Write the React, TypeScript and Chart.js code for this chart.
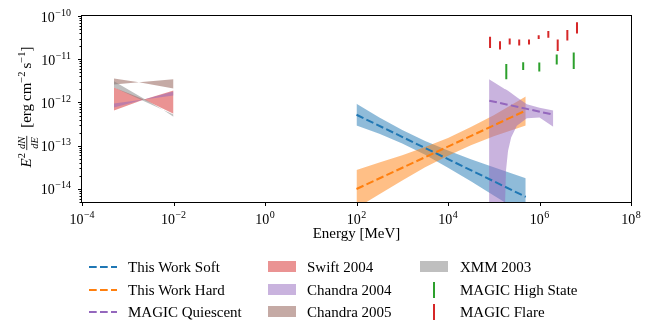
import React, { useEffect, useRef } from 'react';
import { Chart, registerables } from 'chart.js';
Chart.register(...registerables);

// ---------------- data ----------------
// This Work Soft (power law + bowtie)
const softLineE = [1e2, 5e5];
const softLineF = [5.2e-13, 6.6e-15];
const softBandE = [1e2, 3.16e2, 1e3, 3.16e3, 1e4, 3.16e4, 1e5, 5e5];
const softBandHi = [9.3e-13, 4.5e-13, 2.3e-13, 1.29e-13, 7.8e-14, 4.9e-14, 3.2e-14, 1.78e-14];
const softBandLo = [2.95e-13, 1.9e-13, 1.12e-13, 6.2e-14, 3.1e-14, 1.5e-14, 7.1e-15, 2.45e-15];

// This Work Hard
const hardLineE = [1e2, 5e5];
const hardLineF = [1e-14, 6.5e-13];
const hardBandE = [1e2, 3.16e2, 1e3, 3.16e3, 1e4, 3.16e4, 1e5, 5e5];
const hardBandHi = [2.75e-14, 4.1e-14, 6.0e-14, 9.3e-14, 1.51e-13, 2.7e-13, 5.1e-13, 1.38e-12];
const hardBandLo = [3.6e-15, 7.6e-15, 1.58e-14, 3.2e-14, 5.9e-14, 1.02e-13, 1.66e-13, 2.95e-13];

// MAGIC Quiescent
const quiescentLineE = [8e4, 1.9e6];
const quiescentLineF = [1.1e-12, 5.3e-13];
const quiescentBandE = [7.9e4, 1.7e5, 1.76e5, 1.85e5, 2.05e5, 2.4e5, 3.2e5, 5.3e5, 1.0e6, 2.0e6];
const quiescentBandHi = [3.43e-12, 2.09e-12, 2.04e-12, 2.0e-12, 1.86e-12, 1.66e-12, 1.32e-12, 9.1e-13, 7.6e-13, 6.5e-13];
const quiescentBandLo = [1e-16, 1e-16, 4.0e-15, 2.63e-14, 7.6e-14, 1.55e-13, 2.9e-13, 4.3e-13, 4.5e-13, 2.75e-13];

// X-ray bowties
const swiftE = [5e-4, 2.26e-3, 1e-2];
const swiftHi = [2.23e-12, 1.17e-12, 1.9e-12];
const swiftLo = [6.5e-13, 1.17e-12, 5.5e-13];
const chandra04E = [5e-4, 2.26e-3, 1e-2];
const chandra04Hi = [9.5e-13, 1.17e-12, 1.8e-12];
const chandra04Lo = [7.7e-13, 1.17e-12, 1.46e-12];
const chandra05E = [5e-4, 1.76e-3, 1e-2];
const chandra05Hi = [3.6e-12, 2.92e-12, 3.43e-12];
const chandra05Lo = [2.6e-12, 2.92e-12, 2.1e-12];
const xmmE = [5e-4, 6e-3, 1e-2];
const xmmHi = [3.08e-12, 6.7e-13, 5.26e-13];
const xmmLo = [2.23e-12, 6.7e-13, 4.7e-13];

// MAGIC flare / high state (vertical error bars)
const flareE = [8.3e4, 1.37e5, 2.23e5, 3.6e5, 5.9e5, 9.6e5, 1.56e6, 2.5e6, 4.06e6, 6.6e6];
const flareLo = [1.83e-11, 1.68e-11, 2.2e-11, 2.08e-11, 2.2e-11, 2.92e-11, 3.13e-11, 1.56e-11, 2.72e-11, 3.96e-11];
const flareHi = [3.3e-11, 2.62e-11, 3.03e-11, 2.87e-11, 2.87e-11, 3.61e-11, 4.48e-11, 2.87e-11, 4.72e-11, 7.13e-11];
const highE = [1.88e5, 4.4e5, 9.9e5, 2.38e6, 5.6e6];
const highLo = [3.43e-12, 5.64e-12, 5.18e-12, 7.53e-12, 5.94e-12];
const highHi = [7.78e-12, 8.51e-12, 8.37e-12, 1.29e-11, 1.43e-11];

// axes
const xMin = 1e-4, xMax = 1e8;
const yMin = 5e-15, yMax = 1e-10;
const xTickValues = [1e-4, 1e-2, 1e0, 1e2, 1e4, 1e6, 1e8];
const xTickExponents = ['\u22124', '\u22122', '0', '2', '4', '6', '8'];
const yTickValues = [1e-14, 1e-13, 1e-12, 1e-11, 1e-10];
const yTickExponents = ['\u221214', '\u221213', '\u221212', '\u221211', '\u221210'];
const yMinorDecades = [1e-15, 1e-14, 1e-13, 1e-12, 1e-11];
const yMinorMultipliers = [2, 3, 4, 5, 6, 7, 8, 9];

const C = {
  blue: '#1f77b4', orange: '#ff7f0e', purple: '#9467bd', red: '#d62728', green: '#2ca02c',
  blueA: 'rgba(31,119,180,0.5)', orangeA: 'rgba(255,127,14,0.5)', purpleA: 'rgba(148,103,189,0.5)',
  redA: 'rgba(214,39,40,0.5)', brownA: 'rgba(140,86,75,0.5)', grayA: 'rgba(127,127,127,0.5)',
};

const FONT = '"Liberation Serif", "Times New Roman", serif';

type LegendItem = { label: string; kind: 'dash' | 'patch' | 'bar'; color: string; col: number; row: number };
const legendItems: LegendItem[] = [
  { label: 'This Work Soft', kind: 'dash', color: C.blue, col: 0, row: 0 },
  { label: 'This Work Hard', kind: 'dash', color: C.orange, col: 0, row: 1 },
  { label: 'MAGIC Quiescent', kind: 'dash', color: C.purple, col: 0, row: 2 },
  { label: 'Swift 2004', kind: 'patch', color: C.redA, col: 1, row: 0 },
  { label: 'Chandra 2004', kind: 'patch', color: C.purpleA, col: 1, row: 1 },
  { label: 'Chandra 2005', kind: 'patch', color: C.brownA, col: 1, row: 2 },
  { label: 'XMM 2003', kind: 'patch', color: C.grayA, col: 2, row: 0 },
  { label: 'MAGIC High State', kind: 'bar', color: C.green, col: 2, row: 1 },
  { label: 'MAGIC Flare', kind: 'bar', color: C.red, col: 2, row: 2 },
];
const legendHandleX = [89, 268, 420];
const legendTextX = [128, 307, 460];
const legendRowY = [267, 289.5, 311.5];

function drawPow(ctx: CanvasRenderingContext2D, x: number, baseline: number, exp: string, align: 'center' | 'right') {
  ctx.font = `14px ${FONT}`;
  const w1 = ctx.measureText('10').width;
  ctx.font = `10px ${FONT}`;
  const w2 = ctx.measureText(exp).width;
  const total = w1 + 0.5 + w2;
  const x0 = align === 'center' ? x - total / 2 : x - total;
  ctx.textAlign = 'left';
  ctx.textBaseline = 'alphabetic';
  ctx.font = `14px ${FONT}`;
  ctx.fillText('10', x0, baseline);
  ctx.font = `10px ${FONT}`;
  ctx.fillText(exp, x0 + w1 + 0.5, baseline - 6);
}

function drawYTitle(ctx: CanvasRenderingContext2D, cx: number, cy: number) {
  type Piece = { t?: string; font?: string; dy?: number; gap?: number; frac?: [string, string] };
  const big = `15px ${FONT}`;
  const bigI = `italic 15px ${FONT}`;
  const sm = `10.5px ${FONT}`;
  const smI = `italic 10.5px ${FONT}`;
  const pieces: Piece[] = [
    { t: 'E', font: bigI, dy: 0 },
    { t: '2', font: sm, dy: -6.5 },
    { gap: 3 },
    { frac: ['dN', 'dE'] },
    { gap: 8 },
    { t: '[', font: big, dy: 0 },
    { t: 'erg', font: big, dy: 0 },
    { gap: 3 },
    { t: 'cm', font: big, dy: 0 },
    { t: '\u22122', font: sm, dy: -6.5 },
    { gap: 3 },
    { t: 's', font: big, dy: 0 },
    { t: '\u22121', font: sm, dy: -6.5 },
    { t: ']', font: big, dy: 0 },
  ];
  const widths = pieces.map((p) => {
    if (p.gap) return p.gap;
    if (p.frac) {
      ctx.font = smI;
      return Math.max(ctx.measureText(p.frac[0]).width, ctx.measureText(p.frac[1]).width) + 2;
    }
    ctx.font = p.font!;
    return ctx.measureText(p.t!).width;
  });
  const W = widths.reduce((a, b) => a + b, 0);
  ctx.save();
  ctx.translate(cx, cy);
  ctx.rotate(-Math.PI / 2);
  ctx.textAlign = 'left';
  ctx.textBaseline = 'alphabetic';
  ctx.fillStyle = '#000';
  let x = -W / 2;
  pieces.forEach((p, i) => {
    const w = widths[i];
    if (p.frac) {
      ctx.font = smI;
      const wn = ctx.measureText(p.frac[0]).width;
      const wd = ctx.measureText(p.frac[1]).width;
      ctx.fillText(p.frac[0], x + (w - wn) / 2, -6.5);
      ctx.fillText(p.frac[1], x + (w - wd) / 2, 6.5);
      ctx.fillRect(x, -4.6, w, 0.8);
    } else if (p.t) {
      ctx.font = p.font!;
      ctx.fillText(p.t, x, p.dy || 0);
    }
    x += w;
  });
  ctx.restore();
}

const axesPlugin = {
  id: 'mplAxes',
  afterDraw(chart: any) {
    const { ctx, chartArea: a, scales } = chart;
    const xs = scales.x, ys = scales.y;
    ctx.save();
    ctx.strokeStyle = '#000';
    ctx.fillStyle = '#000';
    ctx.lineWidth = 1;
    const L = Math.round(a.left) - 0.5, R = Math.round(a.right) + 0.5;
    const T = Math.round(a.top) - 0.5, B = Math.round(a.bottom) + 0.5;
    ctx.strokeRect(L, T, R - L, B - T);
    ctx.beginPath();
    // y major ticks
    yTickValues.forEach((v) => {
      const py = Math.round(ys.getPixelForValue(v)) + 0.5;
      ctx.moveTo(L - 3.5, py); ctx.lineTo(L, py);
    });
    // y minor ticks
    yMinorDecades.forEach((d) => {
      yMinorMultipliers.forEach((m) => {
        const v = m * d;
        if (v < yMin || v > yMax) return;
        const py = Math.round(ys.getPixelForValue(v)) + 0.5;
        ctx.moveTo(L - 2, py); ctx.lineTo(L, py);
      });
    });
    // x ticks
    xTickValues.forEach((v) => {
      const px = Math.round(xs.getPixelForValue(v)) + 0.5;
      ctx.moveTo(px, B); ctx.lineTo(px, B + 3.5);
    });
    ctx.stroke();
    // labels
    yTickValues.forEach((v, i) => {
      const py = ys.getPixelForValue(v);
      drawPow(ctx, 71, py + 5.5, yTickExponents[i], 'right');
    });
    xTickValues.forEach((v, i) => {
      const px = xs.getPixelForValue(v);
      drawPow(ctx, px, 224, xTickExponents[i], 'center');
    });
    // x title
    ctx.font = `15px ${FONT}`;
    ctx.textAlign = 'center';
    ctx.textBaseline = 'alphabetic';
    ctx.fillText('Energy [MeV]', (a.left + a.right) / 2, 238);
    drawYTitle(ctx, 31, (a.top + a.bottom) / 2 - 2);
    ctx.restore();
  },
};

export default function App() {
  const ref = useRef<HTMLCanvasElement>(null);
  useEffect(() => {
    const ds: any[] = [];
    const xy = (E: number[], F: (number | null)[]) => E.map((x, i) => ({ x, y: F[i] }));
    const addBand = (E: number[], hi: number[], lo: number[], color: string, order: number) => {
      ds.push({ data: xy(E, hi), borderWidth: 0, borderColor: 'transparent', pointRadius: 0, fill: false, order });
      ds.push({ data: xy(E, lo), borderWidth: 0, borderColor: 'transparent', pointRadius: 0, fill: '-1', backgroundColor: color, order });
    };
    const addLine = (E: number[], F: number[], color: string, order: number) => {
      ds.push({ data: xy(E, F), borderColor: color, borderWidth: 2, borderDash: [7.7, 3.3], pointRadius: 0, fill: false, order });
    };
    const addBars = (E: number[], lo: number[], hi: number[], color: string, order: number) => {
      const data: any[] = [];
      E.forEach((x, i) => { data.push({ x, y: lo[i] }, { x, y: hi[i] }, { x, y: null }); });
      ds.push({ data, borderColor: color, borderWidth: 2, pointRadius: 0, fill: false, spanGaps: false, borderCapStyle: 'butt', order });
    };

    // higher order = drawn earlier (underneath)
    addBand(softBandE, softBandHi, softBandLo, C.blueA, 20);
    addBand(hardBandE, hardBandHi, hardBandLo, C.orangeA, 19);
    addBand(quiescentBandE, quiescentBandHi, quiescentBandLo, C.purpleA, 18);
    addBand(swiftE, swiftHi, swiftLo, C.redA, 17);
    addBand(chandra04E, chandra04Hi, chandra04Lo, C.purpleA, 16);
    addBand(chandra05E, chandra05Hi, chandra05Lo, C.brownA, 15);
    addBand(xmmE, xmmHi, xmmLo, C.grayA, 14);
    addLine(softLineE, softLineF, C.blue, 5);
    addLine(hardLineE, hardLineF, C.orange, 4);
    addLine(quiescentLineE, quiescentLineF, C.purple, 3);
    addBars(highE, highLo, highHi, C.green, 2);
    addBars(flareE, flareLo, flareHi, C.red, 1);

    const chart = new Chart(ref.current!, {
      type: 'line',
      data: { datasets: ds },
      options: {
        responsive: false,
        animation: false,
        devicePixelRatio: 1,
        events: [],
        layout: { padding: { top: 16, right: 33, left: 0, bottom: 0 } },
        elements: { line: { tension: 0 } },
        plugins: { legend: { display: false }, tooltip: { enabled: false } },
        scales: {
          x: {
            type: 'logarithmic', min: xMin, max: xMax,
            grid: { display: false }, ticks: { display: false }, border: { display: false },
            afterFit: (s: any) => { s.height = 118; },
          },
          y: {
            type: 'logarithmic', min: yMin, max: yMax,
            grid: { display: false }, ticks: { display: false }, border: { display: false },
            afterFit: (s: any) => { s.width = 82; },
          },
        },
      } as any,
      plugins: [axesPlugin],
    });
    return () => chart.destroy();
  }, []);

  return (
    <div style={{ position: 'absolute', left: 0, top: 0, width: 664, height: 320, background: '#fff', fontFamily: FONT }}>
      <canvas ref={ref} width={664} height={320} style={{ position: 'absolute', left: 0, top: 0 }} />
      {legendItems.map((it) => {
        const hx = legendHandleX[it.col];
        const y = legendRowY[it.row];
        let handle: React.ReactNode;
        if (it.kind === 'dash') {
          handle = (
            <svg style={{ position: 'absolute', left: hx, top: y - 2 }} width={28} height={4}>
              <line x1={0} y1={2} x2={28} y2={2} stroke={it.color} strokeWidth={2} strokeDasharray="7.7 3.3" />
            </svg>
          );
        } else if (it.kind === 'patch') {
          handle = <div style={{ position: 'absolute', left: hx, top: y - 6, width: 28, height: 11, background: it.color }} />;
        } else {
          handle = <div style={{ position: 'absolute', left: hx + 13, top: y - 8, width: 2, height: 16, background: it.color }} />;
        }
        return (
          <React.Fragment key={it.label}>
            {handle}
            <div style={{ position: 'absolute', left: legendTextX[it.col], top: y - 8, fontSize: 15, lineHeight: '16px', whiteSpace: 'nowrap', color: '#000' }}>
              {it.label}
            </div>
          </React.Fragment>
        );
      })}
    </div>
  );
}
